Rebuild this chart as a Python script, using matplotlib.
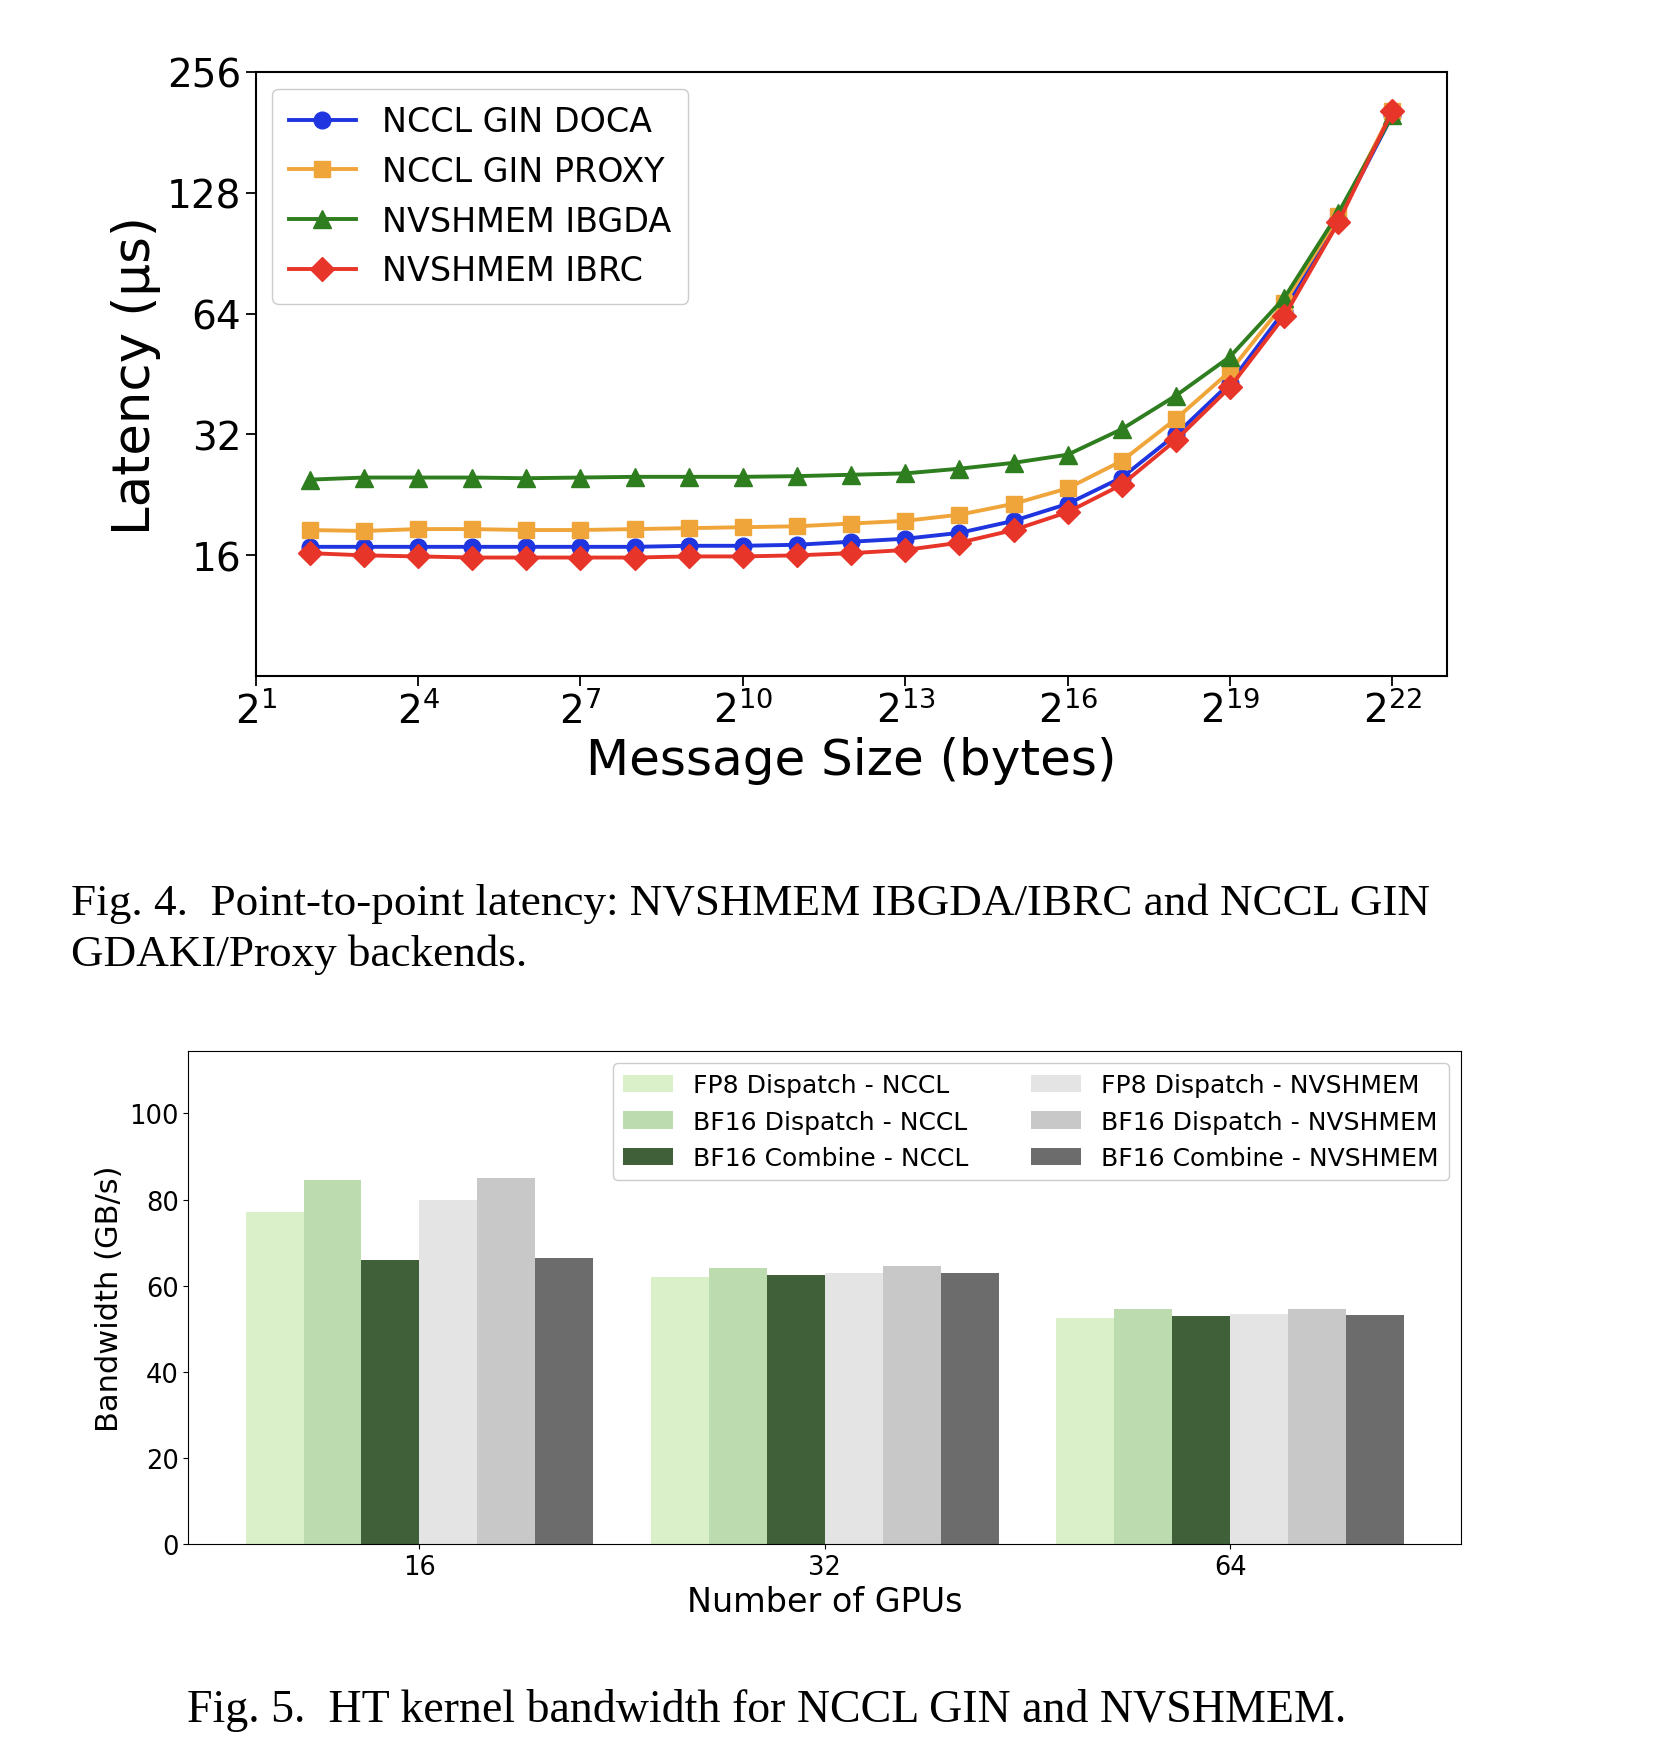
import numpy as np
import matplotlib
matplotlib.use("Agg")
import matplotlib.pyplot as plt
from matplotlib.ticker import FixedLocator, FuncFormatter, NullLocator

# ---- Fig. 4 data: latency (us) vs message size 2^2 .. 2^22
exps = list(range(2, 23))
doca = [16.8, 16.8, 16.8, 16.8, 16.8, 16.8, 16.8, 16.9, 16.9, 17.0, 17.3, 17.6, 18.2, 19.5, 21.5, 25, 32, 43, 65, 110, 200]
proxy = [18.5, 18.4, 18.6, 18.6, 18.5, 18.5, 18.6, 18.7, 18.8, 18.9, 19.2, 19.5, 20.2, 21.5, 23.5, 27.5, 35, 46, 68, 112, 205]
ibgda = [24.7, 25.0, 25.0, 25.0, 24.9, 25.0, 25.1, 25.1, 25.1, 25.2, 25.4, 25.6, 26.3, 27.2, 28.5, 33, 40, 50, 70, 114, 200]
ibrc = [16.2, 16.0, 15.9, 15.8, 15.8, 15.8, 15.8, 15.9, 15.9, 16.0, 16.2, 16.5, 17.2, 18.5, 20.5, 24, 31, 42, 63, 108, 205]

# ---- Fig. 5 data: bandwidth (GB/s)
gpus = ["16", "32", "64"]
bar_labels = ["FP8 Dispatch - NCCL", "BF16 Dispatch - NCCL", "BF16 Combine - NCCL",
              "FP8 Dispatch - NVSHMEM", "BF16 Dispatch - NVSHMEM", "BF16 Combine - NVSHMEM"]
bar_values = [
    [77, 62, 52.5],
    [84.5, 64, 54.5],
    [66, 62.5, 53],
    [80, 63, 53.5],
    [85, 64.5, 54.5],
    [66.5, 63, 53.2],
]
bar_colors = ["#d9f0c8", "#bcdcaf", "#40603a", "#e4e4e4", "#c8c8c8", "#6c6c6c"]

serif = ["Liberation Serif", "DejaVu Serif"]

fig = plt.figure(figsize=(16.54, 17.58), dpi=100, facecolor="white")

# top chart
ax = fig.add_axes([0.1546, 0.6148, 0.72, 0.3437])
sizes = [2.0 ** e for e in exps]
ax.plot(sizes, doca, color="#1f35e0", marker="o", lw=2.8, ms=12, label="NCCL GIN DOCA")
ax.plot(sizes, proxy, color="#f0a53a", marker="s", lw=2.8, ms=12, label="NCCL GIN PROXY")
ax.plot(sizes, ibgda, color="#2e7d1e", marker="^", lw=2.8, ms=13, label="NVSHMEM IBGDA")
ax.plot(sizes, ibrc, color="#e8352a", marker="D", lw=2.8, ms=12, label="NVSHMEM IBRC")
ax.set_xscale("log", base=2)
ax.set_yscale("log", base=2)
ax.set_xlim(2 ** 1, 2 ** 23)
ax.set_ylim(8, 256)
ax.xaxis.set_major_locator(FixedLocator([2.0 ** e for e in range(1, 23, 3)]))
ax.xaxis.set_minor_locator(NullLocator())
ax.yaxis.set_major_locator(FixedLocator([16, 32, 64, 128, 256]))
ax.yaxis.set_minor_locator(NullLocator())
ax.yaxis.set_major_formatter(FuncFormatter(lambda v, p: f"{int(v)}"))
ax.tick_params(labelsize=28, length=7, width=1.3)
ax.set_xlabel("Message Size (bytes)", fontsize=36)
ax.set_ylabel("Latency (µs)", fontsize=37)
ax.legend(loc="upper left", fontsize=24, framealpha=1, borderpad=0.5, handlelength=2.0)
for s in ax.spines.values():
    s.set_linewidth(1.5)

fig.text(0.043, 0.486, "Fig. 4.  Point-to-point latency: NVSHMEM IBGDA/IBRC and NCCL GIN",
         fontsize=32.5, family=serif, va="center")
fig.text(0.043, 0.457, "GDAKI/Proxy backends.",
         fontsize=32.5, family=serif, va="center")

# bottom chart
bx = fig.add_axes([0.1139, 0.1212, 0.7695, 0.2806])
x = np.arange(len(gpus))
w = 0.143
for i, (lab, vals, col) in enumerate(zip(bar_labels, bar_values, bar_colors)):
    bx.bar(x + (i - 2.5) * w, vals, w, color=col, label=lab)
bx.set_xticks(x)
bx.set_xticklabels(gpus)
bx.set_xlim(-0.57, 2.57)
bx.set_ylim(0, 114.6)
bx.set_yticks([0, 20, 40, 60, 80, 100])
bx.tick_params(labelsize=18.5)
bx.set_xlabel("Number of GPUs", fontsize=24)
bx.set_ylabel("Bandwidth (GB/s)", fontsize=22)
bx.legend(loc="upper right", ncol=2, fontsize=18, framealpha=1, columnspacing=2.5)

fig.text(0.113, 0.027, "Fig. 5.  HT kernel bandwidth for NCCL GIN and NVSHMEM.",
         fontsize=33, family=serif, va="center")

fig.savefig("out.png", dpi=100, facecolor="white")
